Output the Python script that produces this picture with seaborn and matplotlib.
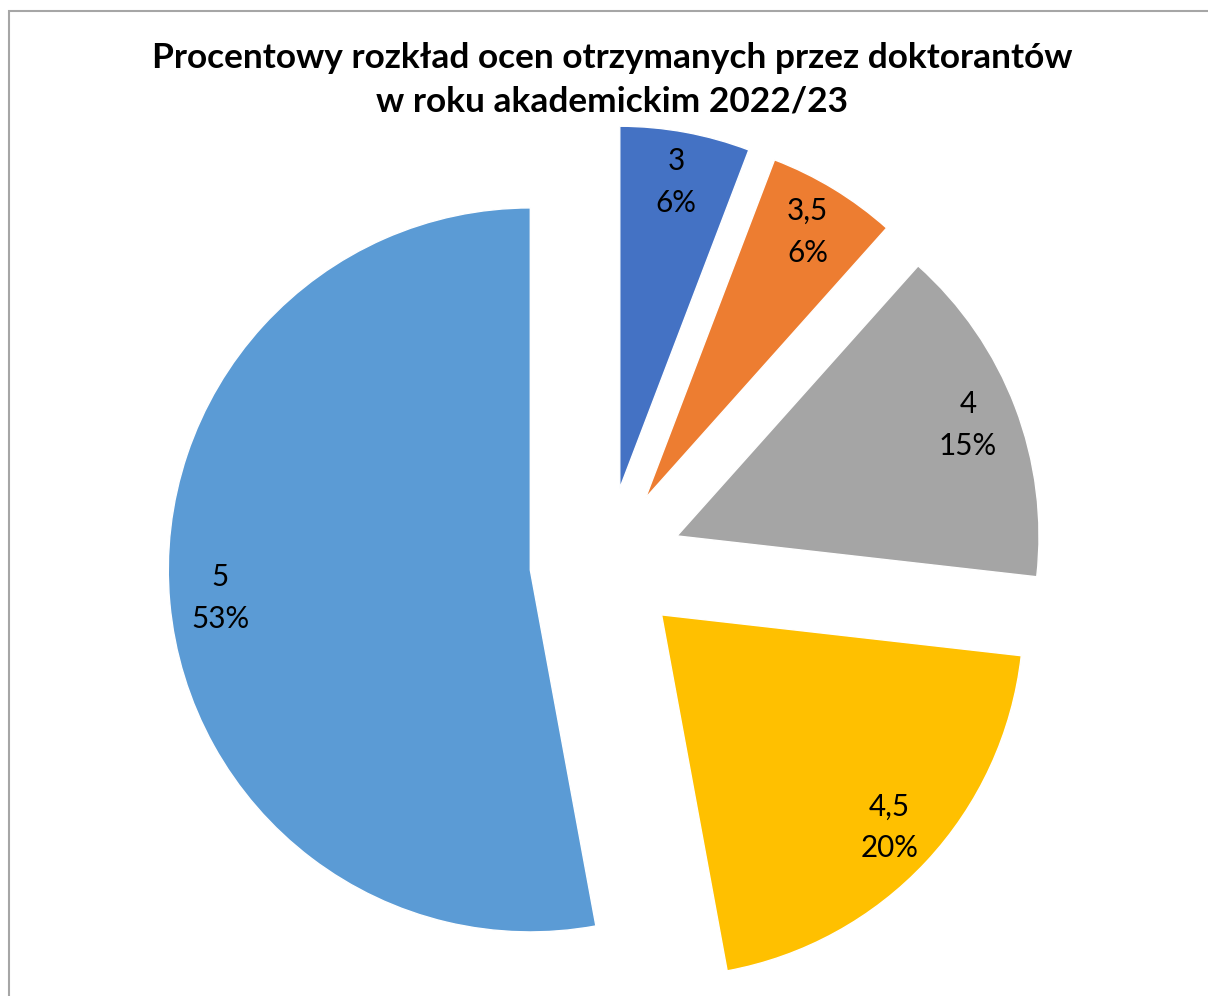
import matplotlib
matplotlib.use("Agg")
import matplotlib.pyplot as plt
import seaborn as sns
from matplotlib.patches import Rectangle

# grades and their share of all marks (%)
grades = ["3", "3,5", "4", "4,5", "5"]
shares = [5.8, 5.8, 15.2, 20.3, 52.9]
colours = ["#4472C4", "#ED7D31", "#A5A5A5", "#FFC000", "#5B9BD5"]

TITLE = ("Procentowy rozkład ocen otrzymanych przez doktorantów\n"
         "w roku akademickim 2022/23")

sns.set_theme(style="white")
plt.rcParams["font.family"] = ["Lato", "DejaVu Sans"]

fig = plt.figure(figsize=(12.08, 9.96), dpi=100)
ax = fig.add_axes([0, 0, 1, 1])

_labels = iter(grades)


def _label(pct: float) -> str:
    return f"{next(_labels)}\n{pct:.0f}%"


wedges, _ = ax.pie(
    shares,
    colors=sns.color_palette(colours),
    explode=[0.21] * len(shares),
    startangle=90,
    counterclock=False,
    autopct=_label,
    pctdistance=0.86,
    textprops={"fontsize": 21.3, "color": "black", "linespacing": 1.6},
)[:2]

# 1 data unit = 362 px, pie centre at pixel (606, 563)
ax.set_xlim(-606 / 362, (1208 - 606) / 362)
ax.set_ylim(-(996 - 563) / 362, 563 / 362)
ax.set_aspect("auto")
ax.axis("off")

fig.text(0.5066, 1 - 80 / 996, TITLE, ha="center", va="center",
         fontsize=25.4, fontweight="bold", color="black", linespacing=1.45)

# chart-area border (runs off the right and bottom edges)
fig.add_artist(Rectangle((9 / 1208, -0.1), 1.2, 1 - 11 / 996 + 0.1,
                         transform=fig.transFigure, fill=False,
                         edgecolor="#A6A6A6", linewidth=1.5, zorder=-1))

fig.savefig("out.png", dpi=100)
